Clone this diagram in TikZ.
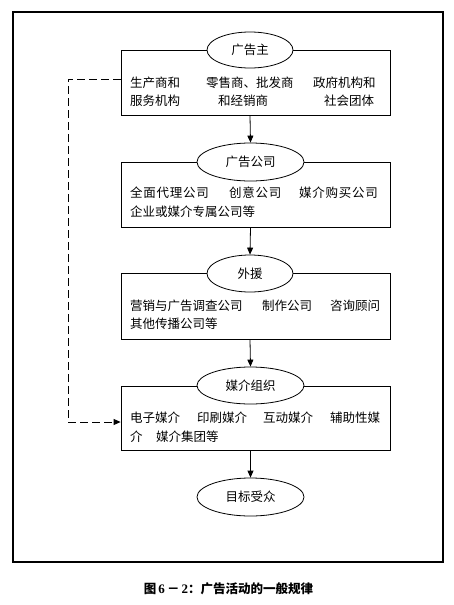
\documentclass[tikz,border=0pt]{standalone}
\usepackage{fontspec}
\setmainfont{Noto Sans CJK SC}
\newfontfamily\tnr{Liberation Serif}
\usetikzlibrary{shapes.geometric,arrows.meta}
\tikzset{
  frame/.style={draw,line width=1.2pt},
  bigbox/.style={draw,line width=0.8pt},
  oval/.style={ellipse,draw,line width=0.8pt,fill=white,inner sep=0pt,font=\fontsize{12.5}{15}\selectfont},
  txt/.style={anchor=west,inner sep=0pt,font=\fontsize{12.5}{15}\selectfont},
  wtxt/.style={txt,font=\fontsize{12.5}{15}\selectfont\addfontfeature{LetterSpace=6}},
  flow/.style={line width=0.8pt,-{Triangle[length=7pt,width=6pt]}},
  back/.style={line width=0.8pt,dash pattern=on 8pt off 4pt,-{Triangle[length=7pt,width=6pt]}}
}
\begin{document}
\begin{tikzpicture}[x=1pt,y=-1pt]
\useasboundingbox (0,0) rectangle (454,605);
\draw[frame] (13,12) rectangle (443,562);
% boxes
\node[bigbox,minimum width=269pt,minimum height=65pt,inner sep=0pt] (b1) at (255.5,82.5) {};
\node[bigbox,minimum width=269pt,minimum height=65pt,inner sep=0pt] (b2) at (255.5,194.5) {};
\node[bigbox,minimum width=269pt,minimum height=66pt,inner sep=0pt] (b3) at (255.5,306) {};
\node[bigbox,minimum width=269pt,minimum height=64pt,inner sep=0pt] (b4) at (255.5,418) {};
% ellipses
\node[oval,minimum width=86pt,minimum height=36pt] (e1) at (250,50) {广告主};
\node[oval,minimum width=107pt,minimum height=38pt] (e2) at (250.5,162) {广告公司};
\node[oval,minimum width=86pt,minimum height=37pt] (e3) at (250,273.5) {外援};
\node[oval,minimum width=107pt,minimum height=37pt] (e4) at (250.5,385.5) {媒介组织};
\node[oval,minimum width=107pt,minimum height=38pt] (e5) at (250.5,497) {目标受众};
% box 1 text
\node[txt] (t11) at (130,83) {生产商和};
\node[txt] (t12) at (206,83) {零售商、批发商};
\node[txt] (t13) at (313,83) {政府机构和};
\node[txt] (t14) at (130,101) {服务机构};
\node[txt] (t15) at (218,101) {和经销商};
\node[txt] (t16) at (324,101) {社会团体};
% box 2 text
\node[wtxt] (t21) at (130,193) {全面代理公司};
\node[wtxt] (t22) at (229,193) {创意公司};
\node[wtxt] (t23) at (299,193) {媒介购买公司};
\node[txt] (t24) at (130,212) {企业或媒介专属公司等};
% box 3 text
\node[txt] (t31) at (130,306) {营销与广告调查公司};
\node[txt] (t32) at (262,306) {制作公司};
\node[txt] (t33) at (330,306) {咨询顾问};
\node[txt] (t34) at (130,324) {其他传播公司等};
% box 4 text
\node[txt] (t41) at (130,418) {电子媒介};
\node[txt] (t42) at (197,418) {印刷媒介};
\node[txt] (t43) at (263,418) {互动媒介};
\node[txt] (t44) at (330,418) {辅助性媒};
\node[txt] (t45) at (130,437) {介};
\node[txt] (t46) at (156,437) {媒介集团等};
% arrows
\draw[flow] (b1.south -| e1.south) -- (e2.north);
\draw[flow] (b2.south -| e2.south) -- (e3.north);
\draw[flow] (b3.south -| e3.south) -- (e4.north);
\draw[flow] (b4.south -| e4.south) -- (e5.north);
\coordinate (c1) at (68,79);
\coordinate (c2) at (68,422);
\draw[back] (b1.west |- c1) -- (c1) -- (c2) -- (b4.west |- c2);
% caption
\node[inner sep=0pt,font=\fontsize{12.5}{15}\selectfont\bfseries] (cap) at (228.5,589) {图\,{\tnr\fontsize{13}{15}\selectfont 6}\,－\,{\tnr\fontsize{13}{15}\selectfont 2}：广告活动的一般规律};
\end{tikzpicture}
\end{document}
